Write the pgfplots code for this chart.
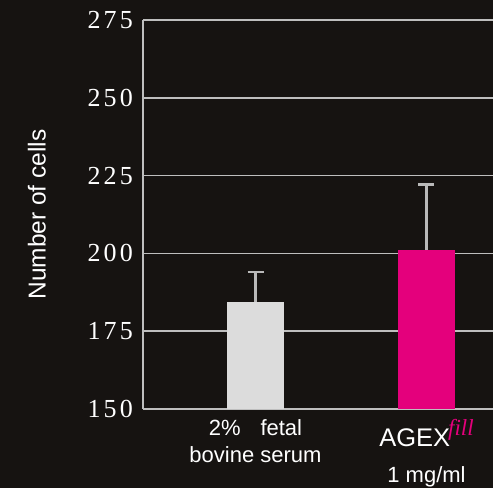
\documentclass[border=0pt]{standalone}
\usepackage{pgfplots}
\pgfplotsset{compat=1.18}
\usepackage{fontspec}
\setmainfont{Liberation Sans}
\newfontfamily\tickfont[LetterSpace=12]{Liberation Serif}
\newfontfamily\seriffont{Liberation Serif}
\definecolor{bg}{RGB}{22,19,17}
\definecolor{gridgray}{RGB}{190,190,190}
\definecolor{bargray}{RGB}{220,220,220}
\definecolor{errgray}{RGB}{185,185,185}
\definecolor{agexpink}{RGB}{228,0,124}
\begin{document}
\begin{tikzpicture}
\useasboundingbox (-143pt,-79pt) rectangle (350pt,409pt);
\fill[bg] (-143pt,-79pt) rectangle (350pt,409pt);
\begin{axis}[
  at={(0pt,0pt)}, anchor=south west,
  scale only axis, width=350pt, height=389pt,
  xmin=-0.658, xmax=1.389, ymin=150, ymax=275,
  ytick={150,175,200,225,250,275},
  yticklabels={150,175,200,225,250,275},
  xtick={0,1},
  xticklabels={
    {2\%\hspace{0.9em}fetal\\bovine serum},
    {{\fontsize{25.5}{30}\selectfont AGEX}\kern-2pt\raisebox{11pt}{\seriffont\itshape\fontsize{23}{23}\selectfont\color{agexpink}fill}\\[9pt]1 mg/ml}
  },
  axis x line*=bottom, axis y line*=left,
  axis line style={-, draw=gridgray, line width=1.6pt},
  major tick length=0pt,
  ymajorgrids, grid style={draw=gridgray, line width=1.6pt},
  yticklabel style={font=\tickfont\fontsize{26}{26}\selectfont, text=white, anchor=east, inner sep=0pt, xshift=-10pt},
  xticklabel style={font=\fontsize{22}{27}\selectfont, text=white, align=center, anchor=north, inner sep=0pt, yshift=-10pt},
  ylabel={Number of cells},
  every axis y label/.style={at={(axis description cs:-0.303,0.5)}, rotate=90, anchor=center, font=\fontsize{24.5}{28}\selectfont, text=white},
]
\addplot[ybar, bar width=57pt, fill=bargray, draw=none,
  error bars/.cd, y dir=plus, y explicit,
  error bar style={draw=errgray, line width=2.5pt},
  error mark options={draw=errgray, line width=2.5pt, mark size=8pt, rotate=90}]
  coordinates {(0,184.5) +- (0,9.5)};
\addplot[ybar, bar width=57pt, fill=agexpink, draw=none,
  error bars/.cd, y dir=plus, y explicit,
  error bar style={draw=errgray, line width=2.5pt},
  error mark options={draw=errgray, line width=2.5pt, mark size=8pt, rotate=90}]
  coordinates {(1,201.1) +- (0,21)};
\end{axis}
\end{tikzpicture}
\end{document}
